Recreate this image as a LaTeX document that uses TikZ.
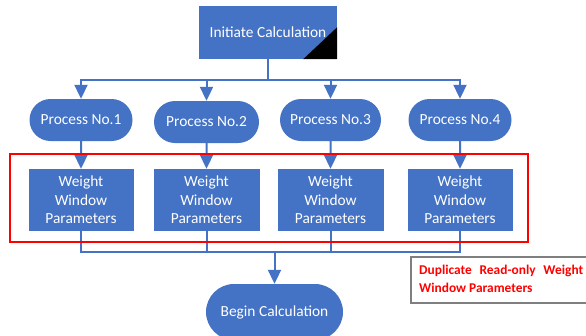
\documentclass[tikz,border=0pt]{standalone}
\usepackage{fontspec}
\setmainfont{Carlito}
\usetikzlibrary{shapes.misc,arrows.meta}
\definecolor{ofblue}{HTML}{4472C4}
\definecolor{notegray}{HTML}{7F7F7F}
\begin{document}
\begin{tikzpicture}[x=1pt,y=-1pt,
  box/.style={fill=ofblue,text=white,inner sep=0pt,font=\fontsize{15.4}{18.5}\selectfont,align=center},
  proc/.style={box,rounded rectangle,minimum width=103pt,minimum height=42pt},
  wbox/.style={box,rectangle,minimum width=105pt,minimum height=62pt},
  conn/.style={draw=ofblue,line width=2pt},
  arr/.style={conn,-{Triangle[width=13pt,length=14pt]}},
  redframe/.style={draw=red,line width=1.5pt},
  notebox/.style={draw=notegray,line width=1.5pt,fill=white,inner sep=0pt},
  notetext/.style={text=red,inner sep=0pt,align=left,font=\bfseries\fontsize{13.4}{18.5}\selectfont}]
\clip (0,0) rectangle (586,335);
\fill[white] (0,0) rectangle (586,335);
% top
\node[box,minimum width=138pt,minimum height=53pt] (init) at (268,32.5) {Initiate Calculation};
\fill[black] (init.south east) -- ++(0,-32) -- ++(-34,32) -- cycle;
% processes
\node[proc] (p1) at (81,120) {Process No.1};
\node[proc,minimum width=105pt] (p2) at (206.5,122) {Process No.2};
\node[proc,minimum width=101pt] (p3) at (330.5,120) {Process No.3};
\node[proc] (p4) at (460,120) {Process No.4};
% weight boxes
\node[wbox] (w1) at (81,200) {Weight\\Window\\Parameters};
\node[wbox,minimum width=106pt] (w2) at (206.5,200) {Weight\\Window\\Parameters};
\node[wbox,minimum width=106pt] (w3) at (330.5,200) {Weight\\Window\\Parameters};
\node[wbox] (w4) at (460,200) {Weight\\Window\\Parameters};
% begin
\node[proc,minimum width=137pt,minimum height=56pt] (begin) at (274.5,312) {Begin Calculation};
% top bus
\coordinate (tb) at (268,80);
\draw[conn] (init) -- (tb);
\draw[arr] (tb) -| (p1);
\draw[arr] (tb) -| (p2);
\draw[arr] (tb) -| (p3);
\draw[arr] (tb) -| (p4);
% process to weight
\draw[arr] (p1) -- (w1);
\draw[arr] (p2) -- (w2);
\draw[arr] (p3) -- (w3);
\draw[arr] (p4) -- (w4);
% bottom bus
\coordinate (bb) at (274.5,252);
\draw[conn] (w1) |- (bb);
\draw[conn] (w4) |- (bb);
\draw[conn] (w2) -- (w2 |- bb);
\draw[conn] (w3) -- (w3 |- bb);
\draw[arr] (bb) -- (begin);
% red frame
\draw[redframe] (10,154) rectangle (528,242);
% note
\node[notebox,anchor=north west,minimum width=210pt,minimum height=46pt] (note) at (410,256) {};
\node[notetext,anchor=west] (notet) at (419,279) {\hbox to 164pt{Duplicate\hfill Read-only\hfill Weight}\\Window Parameters};
\end{tikzpicture}
\end{document}
